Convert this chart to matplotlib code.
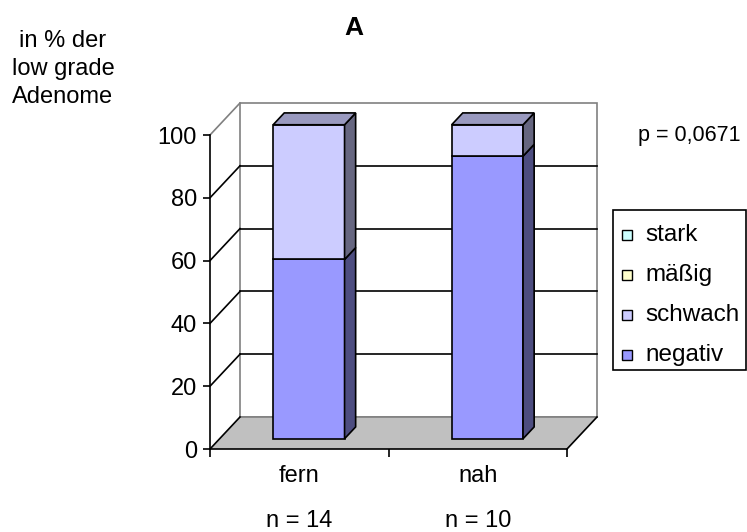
import numpy as np
import matplotlib
matplotlib.use('Agg')
import matplotlib.pyplot as plt
from matplotlib.patches import Polygon, Rectangle
from matplotlib.colors import to_rgb

plt.rcParams['font.family'] = ['Liberation Sans', 'DejaVu Sans']

# stacked shares per group (percent)
categories = ['fern', 'nah']
group_sizes = ['n = 14', 'n = 10']
negativ = [57.1, 90.0]
schwach = [42.9, 10.0]
maessig = [0.0, 0.0]
stark = [0.0, 0.0]
levels = ['negativ', 'schwach', 'mäßig', 'stark']
level_colors = ['#9999FF', '#CCCCFF', '#FFFFCC', '#CCFFFF']
y_ticks = [0, 20, 40, 60, 80, 100]
y_title = ['in % der', 'low grade', 'Adenome']
p_text = 'p = 0,0671'

W, H = 747, 532
FS = 17

fig = plt.figure(figsize=(W / 100, H / 100), dpi=100)
ax = fig.add_axes([210 / W, 1 - 449 / H, 357 / W, 314 / H])
ax.set_xlim(0, 2)
ax.set_ylim(0, 100)
ax.set_facecolor('none')

# oblique depth shift of the pseudo-3d box, in data units
DX = 30 / 178.5
DY = 32 / 3.14


def at(x, y, d):
    return (x + d * DX, y + d * DY)


grey = '#808080'
lw = 1.2

# walls and floor
ax.add_patch(Polygon([(0, 0), (0, 100), at(0, 100, 1), at(0, 0, 1)],
                     facecolor='white', edgecolor='none', zorder=0.5, clip_on=False))
ax.add_patch(Polygon([at(0, 0, 1), at(2, 0, 1), at(2, 100, 1), at(0, 100, 1)],
                     facecolor='white', edgecolor=grey, lw=lw, zorder=0.5, clip_on=False))
ax.plot(*zip((0, 100), at(0, 100, 1)), color=grey, lw=lw, zorder=0.6, clip_on=False)
ax.add_patch(Polygon([(0, 0), (2, 0), at(2, 0, 1), at(0, 0, 1)],
                     facecolor='#C0C0C0', edgecolor='none', zorder=0.6, clip_on=False))
ax.plot(*zip(at(0, 0, 1), at(2, 0, 1)), color=grey, lw=lw, zorder=0.65, clip_on=False)
ax.plot(*zip((2, 0), at(2, 0, 1)), color='black', lw=lw, zorder=0.7, clip_on=False)

# gridlines: diagonal on the side wall, horizontal on the back wall
for v in y_ticks[:-1]:
    ax.plot(*zip((0, v), at(0, v, 1)), color='black', lw=lw, zorder=0.7, clip_on=False)
    if v > 0:
        ax.plot(*zip(at(0, v, 1), at(2, v, 1)), color='black', lw=lw,
                zorder=0.7, clip_on=False)

# stacked 3d bars
BAR_W = 0.4
D0, D1 = 0.32, 0.69
stack = [negativ, schwach, maessig, stark]
for i in range(len(categories)):
    x0 = i + 0.5 - BAR_W / 2
    x1 = x0 + BAR_W
    base = 0.0
    top_rgb = None
    for vals, col in zip(stack, level_colors):
        v = vals[i]
        if v <= 0:
            continue
        rgb = np.array(to_rgb(col))
        y0, y1 = base, base + v
        ax.add_patch(Polygon([at(x0, y0, D0), at(x1, y0, D0), at(x1, y1, D0), at(x0, y1, D0)],
                             facecolor=rgb, edgecolor='black', lw=lw, zorder=3,
                             clip_on=False, joinstyle='miter'))
        ax.add_patch(Polygon([at(x1, y0, D0), at(x1, y0, D1), at(x1, y1, D1), at(x1, y1, D0)],
                             facecolor=rgb * 0.5, edgecolor='black', lw=lw, zorder=3,
                             clip_on=False, joinstyle='miter'))
        base = y1
        top_rgb = rgb
    ax.add_patch(Polygon([at(x0, base, D0), at(x1, base, D0), at(x1, base, D1), at(x0, base, D1)],
                         facecolor=top_rgb * 0.75, edgecolor='black', lw=lw, zorder=3,
                         clip_on=False, joinstyle='miter'))

# axes
for side in ['top', 'right']:
    ax.spines[side].set_visible(False)
for side in ['left', 'bottom']:
    ax.spines[side].set_linewidth(lw)
    ax.spines[side].set_zorder(2.5)
ax.set_yticks(y_ticks)
ax.set_yticklabels([str(t) for t in y_ticks])
ax.tick_params(axis='y', direction='out', length=5, width=lw, pad=4.5, labelsize=FS)
ax.set_xticks([0, 1, 2])
ax.set_xticklabels([])
ax.tick_params(axis='x', direction='out', length=5.8, width=lw)

xt = ax.get_xaxis_transform()
for i, (cat, n) in enumerate(zip(categories, group_sizes)):
    ax.text(i + 0.5, -33 / 314, cat, transform=xt, ha='center', va='baseline', fontsize=FS)
    ax.text(i + 0.5, -78 / 314, n, transform=xt, ha='center', va='baseline', fontsize=FS)

# titles and annotations
fig.text(354 / W, 1 - 35 / H, 'A', ha='center', va='baseline', fontsize=19, fontweight='bold')
for line, base_y in zip(y_title, [47, 75, 103]):
    fig.text(63 / W, 1 - base_y / H, line, ha='center', va='baseline', fontsize=FS)
fig.text(740 / W, 1 - 135 / H, p_text, ha='right', va='center', fontsize=15.5)

# legend, top entry first
fig.add_artist(Rectangle((613 / W, 1 - 370 / H), 133 / W, 160 / H, transform=fig.transFigure,
                         facecolor='white', edgecolor='black', lw=lw))
for k, (name, col) in enumerate(zip(levels[::-1], level_colors[::-1])):
    cy = 235 + 40 * k
    fig.add_artist(Rectangle((622 / W, 1 - (cy + 5) / H), 10 / W, 10 / H,
                             transform=fig.transFigure, facecolor=col,
                             edgecolor='black', lw=1.0))
    fig.text(645 / W, 1 - cy / H, name, ha='left', va='center', fontsize=17.5)

fig.savefig('out.png', dpi=100)
